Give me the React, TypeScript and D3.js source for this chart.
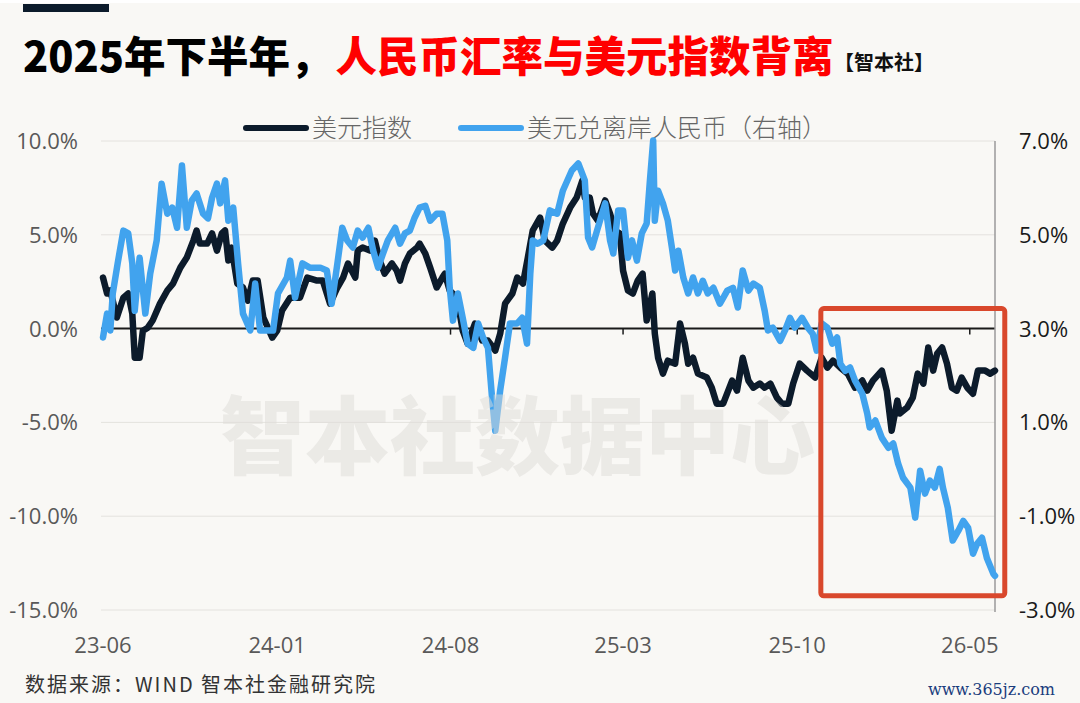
import React, { useEffect } from 'react';
import * as d3 from 'd3';

// days counted from 2023-06-01
const dxyDays = [
  0, 5, 9, 17, 25, 31, 36, 39, 45, 49, 55, 61, 70, 79, 86, 95, 103, 111, 115, 119,
  128, 134, 140, 146, 150, 154, 158, 165, 172, 178, 184, 190, 197, 208, 214, 220, 230, 242, 251, 263,
  270, 279, 288, 295, 301, 310, 313, 319, 328, 334, 340, 346, 355, 361, 365, 371, 377, 386, 389, 396,
  402, 410, 417, 420, 426, 435, 442, 448, 457, 466, 473, 482, 488, 494, 503, 509, 516, 522, 528, 537,
  543, 552, 558, 565, 574, 582, 589, 592, 598, 602, 608, 617, 623, 629, 635, 639, 645, 651, 657, 663,
  668, 675, 678, 682, 688, 694, 703, 709, 715, 719, 725, 731, 742, 748, 754, 762, 773, 779, 786, 793,
  799, 807, 813, 820, 828, 834, 842, 848, 856, 865, 875, 883, 890, 897, 906, 915, 924, 933, 939, 946,
  957, 963, 969, 976, 979, 988, 995, 1001, 1008, 1014, 1020, 1025, 1031, 1037, 1043, 1049, 1055, 1062, 1069, 1075,
  1084, 1090, 1096,
];
// 美元指数, % change (left axis)
const dxyValues = [
  2.72, 1.87, 2.03, 0.59, 1.65, 1.87, 0.8, -1.55, -1.55, -0.11, 0.05, 0.43, 1.33, 2.03, 2.4, 3.25, 3.79, 4.69, 5.23, 4.53,
  4.53, 5.07, 4.16, 5.07, 5.23, 3.63, 4.32, 2.4, 2.19, 1.49, 2.56, 2.56, 0.59, -0.48, -0.11, 0.96, 1.65, 1.65, 2.72, 2.56,
  2.56, 1.33, 2.19, 2.72, 3.47, 2.72, 4.16, 4.32, 4.16, 4.69, 3.63, 2.93, 3.47, 3.09, 2.56, 3.47, 4.0, 4.32, 4.53, 4.0,
  3.25, 2.19, 2.72, 2.93, 2.03, 1.65, -0.11, -0.8, 0.27, -0.64, -0.64, -1.17, -0.27, 1.33, 1.87, 2.72, 2.4, 3.79, 5.23, 5.92,
  4.69, 4.32, 4.69, 5.6, 6.45, 6.99, 7.89, 6.99, 6.99, 6.13, 5.76, 6.83, 6.13, 5.23, 5.07, 3.09, 2.03, 1.87, 2.56, 2.93,
  0.43, 1.87, -0.27, -1.55, -2.4, -1.71, -1.87, 0.27, -0.8, -1.87, -1.55, -2.4, -2.61, -3.15, -4.0, -4.0, -2.77, -3.31, -1.55, -2.77,
  -3.15, -2.93, -3.15, -2.93, -3.68, -4.0, -4.0, -2.93, -1.87, -2.24, -2.61, -1.55, -2.08, -1.71, -2.08, -2.4, -3.15, -2.77, -3.31, -2.77,
  -2.24, -3.31, -5.44, -3.84, -4.53, -4.21, -3.68, -2.4, -2.93, -1.01, -2.24, -1.33, -1.01, -1.87, -3.15, -3.31, -2.61, -3.15, -3.47, -2.24,
  -2.24, -2.4, -2.24,
];

const cnyDays = [
  0, 5, 9, 12, 18, 25, 31, 36, 39, 45, 52, 58, 66, 72, 79, 85, 91, 97, 103, 109,
  115, 123, 129, 134, 140, 144, 150, 154, 160, 166, 172, 181, 187, 193, 202, 209, 215, 226, 230, 236,
  245, 254, 267, 275, 281, 288, 294, 300, 307, 313, 319, 326, 332, 338, 344, 350, 359, 365, 371, 377,
  383, 389, 396, 402, 410, 417, 423, 426, 430, 436, 442, 448, 455, 461, 467, 473, 478, 482, 488, 494,
  500, 509, 515, 521, 525, 528, 534, 541, 549, 558, 565, 576, 584, 586, 592, 596, 601, 607, 617, 623,
  627, 633, 639, 645, 650, 656, 662, 668, 672, 676, 678, 682, 688, 694, 699, 703, 707, 713, 719, 725,
  731, 737, 743, 750, 758, 767, 774, 780, 786, 793, 799, 807, 813, 817, 823, 832, 838, 844, 850, 859,
  866, 872, 877, 883, 890, 896, 902, 906, 912, 918, 924, 933, 939, 942, 949, 957, 965, 971, 977, 983,
  992, 998, 1004, 1010, 1016, 1022, 1028, 1032, 1038, 1044, 1051, 1057, 1063, 1069, 1074, 1080, 1086, 1094, 1096,
];
// 美元兑离岸人民币, % change (right axis)
const cnyValues = [
  2.81, 3.32, 2.96, 3.75, 4.39, 5.09, 5.03, 4.39, 3.38, 4.51, 3.32, 4.17, 4.88, 6.09, 5.45, 5.58, 5.15, 6.48, 5.15, 5.73,
  5.88, 5.45, 5.35, 5.79, 6.09, 5.67, 6.16, 5.3, 5.58, 4.39, 3.32, 2.96, 3.96, 2.96, 2.96, 2.96, 3.75, 4.09, 4.45, 3.66,
  4.39, 4.3, 4.3, 4.24, 3.53, 4.39, 5.15, 4.88, 4.73, 5.09, 4.94, 5.15, 4.66, 4.3, 4.6, 4.88, 5.15, 4.81, 5.03, 5.09,
  5.37, 5.58, 5.62, 5.3, 5.45, 5.45, 4.88, 3.87, 3.17, 3.75, 3.23, 2.68, 2.59, 3.11, 2.81, 2.59, 1.53, 0.82, 1.68, 2.38,
  3.11, 3.11, 3.23, 2.68, 4.17, 4.88, 4.81, 4.88, 5.52, 5.45, 5.94, 6.37, 6.52, 6.43, 6.16, 4.94, 4.73, 5.09, 5.67, 4.88,
  4.6, 5.52, 5.52, 4.51, 4.88, 4.45, 5.03, 5.24, 6.16, 7.01, 5.3, 5.94, 5.67, 5.3, 4.73, 4.24, 4.66, 4.09, 3.75, 4.09,
  3.75, 4.02, 3.75, 3.87, 3.53, 3.81, 3.87, 3.45, 4.24, 3.81, 3.96, 3.87, 3.38, 2.96, 3.02, 2.74, 2.96, 3.23, 3.02, 3.23,
  3.02, 2.89, 2.53, 3.11, 3.02, 2.68, 2.81, 2.25, 2.1, 2.17, 1.89, 1.61, 1.19, 0.89, 1.04, 0.67, 0.46, 0.55, 0.12, -0.18,
  -0.39, -1.03, -0.03, -0.52, -0.24, -0.39, 0.01, -0.39, -0.82, -1.52, -1.31, -1.1, -1.25, -1.8, -1.59, -1.46, -1.89, -2.23, -2.27,
];

const leftTicks = [10, 5, 0, -5, -10, -15];
const rightTicks = [7, 5, 3, 1, -1, -3];
const xTickDates = ['2023-06-01', '2024-01-01', '2024-08-01', '2025-03-01', '2025-10-01', '2026-05-01'];
const seriesNames = ['美元指数', '美元兑离岸人民币（右轴）'];
// highlighted window (left-axis units)
const boxDates = ['2025-10-30', '2026-06-13'];
const boxRange = [1.07, -14.24];

const W = 1080;
const H = 703;
const DARK = '#0c1b2b';
const BLUE = '#41a3ee';
const parse = d3.timeParse('%Y-%m-%d');
const START = parse('2023-06-01') as Date;

const App: React.FC = () => {
  useEffect(() => {
    document.body.style.margin = '0';
  }, []);

  const x = d3.scaleTime().domain([START, parse('2026-06-01') as Date]).range([103, 995]);
  const yL = d3.scaleLinear().domain([-15, 10]).range([610, 141]);
  const yR = d3.scaleLinear().domain([-3, 7]).range([610, 141]);

  const dxy = dxyDays.map((d, i) => ({ date: d3.timeDay.offset(START, d), value: dxyValues[i] }));
  const cny = cnyDays.map((d, i) => ({ date: d3.timeDay.offset(START, d), value: cnyValues[i] }));

  const lineL = d3.line<{ date: Date; value: number }>().x((d) => x(d.date)).y((d) => yL(d.value));
  const lineR = d3.line<{ date: Date; value: number }>().x((d) => x(d.date)).y((d) => yR(d.value));
  const fmt = d3.timeFormat('%y-%m');

  const bx0 = x(parse(boxDates[0]) as Date);
  const bx1 = x(parse(boxDates[1]) as Date);
  const by0 = yL(boxRange[0]);
  const by1 = yL(boxRange[1]);

  const numFont = '"Open Sans", "Noto Sans", sans-serif';
  const cjk = '"Noto Sans CJK SC", sans-serif';

  return (
    <svg width={W} height={H} style={{ display: 'block' }}>
      <rect width={W} height={H} fill="#f9f8f5" />
      <rect x={0} y={0} width={W} height={3} fill="#ffffff" />
      <rect x={23} y={4} width={86} height={8} fill={DARK} />

      {/* title */}
      <text x={23} y={72} fontFamily={cjk} fontWeight={900} fontSize={41.5}>
        <tspan fill="#000">2025年下半年，</tspan>
        <tspan fill="#ff0000" dx={4}>人民币汇率与美元指数背离</tspan>
      </text>
      <text x={834} y={70} fontFamily={cjk} fontWeight={700} fontSize={20} fill="#111">【智本社】</text>

      {/* legend */}
      <line x1={246} x2={306} y1={128} y2={128} stroke={DARK} strokeWidth={6} strokeLinecap="round" />
      <text x={312} y={137} fontFamily={cjk} fontSize={25} fontWeight={300} fill="#666">{seriesNames[0]}</text>
      <line x1={461} x2={521} y1={128} y2={128} stroke={BLUE} strokeWidth={6} strokeLinecap="round" />
      <text x={527} y={137} fontFamily={cjk} fontSize={25} fontWeight={300} fill="#666">{seriesNames[1]}</text>

      {/* grid */}
      {leftTicks.filter((t) => t !== 0).map((t) => (
        <line key={t} x1={101} x2={995} y1={yL(t)} y2={yL(t)} stroke="#e4e2de" strokeWidth={1} />
      ))}
      <line x1={101} x2={995} y1={yL(0)} y2={yL(0)} stroke="#1a1a1a" strokeWidth={2} />
      {xTickDates.map((d) => (
        <line key={d} x1={x(parse(d) as Date)} x2={x(parse(d) as Date)} y1={yL(0)} y2={yL(0) + 6} stroke="#1a1a1a" strokeWidth={1.5} />
      ))}
      <line x1={995} x2={995} y1={141} y2={612} stroke="#9a9a9a" strokeWidth={1.5} />

      {/* axis labels */}
      {leftTicks.map((t) => (
        <text key={t} x={78} y={yL(t)} dy="0.36em" textAnchor="end" fontFamily={numFont} fontSize={22} fill="#595959">
          {t.toFixed(1)}%
        </text>
      ))}
      {rightTicks.map((t) => (
        <text key={t} x={1019} y={yR(t)} dy="0.36em" fontFamily={numFont} fontSize={22} fill="#1a1a1a">
          {t.toFixed(1)}%
        </text>
      ))}
      {xTickDates.map((d) => (
        <text key={d} x={x(parse(d) as Date)} y={653} textAnchor="middle" fontFamily={numFont} fontSize={22} fill="#595959">
          {fmt(parse(d) as Date)}
        </text>
      ))}

      {/* series */}
      <path d={lineL(dxy) || ''} fill="none" stroke={DARK} strokeWidth={6.5} strokeLinejoin="round" strokeLinecap="round" />
      <path d={lineR(cny) || ''} fill="none" stroke={BLUE} strokeWidth={6.5} strokeLinejoin="round" strokeLinecap="round" />

      {/* watermark */}
      <text x={220} y={468} fontFamily={cjk} fontWeight={900} fontSize={85} fill="#dedcd7" fillOpacity={0.5}>
        智本社数据中心
      </text>

      {/* highlight box */}
      <rect x={bx0} y={by0} width={bx1 - bx0} height={by1 - by0} fill="none" stroke="#d9482c" strokeWidth={5} rx={3} />

      {/* source */}
      <text x={25} y={692} fontFamily={cjk} fontSize={20} fill="#333" letterSpacing={2}>
        数据来源：WIND 智本社金融研究院
      </text>
      <text x={1055} y={695} textAnchor="end" fontFamily='"DejaVu Serif", serif' fontSize={16} fill="#1b3d7d">
        www.365jz.com
      </text>
    </svg>
  );
};

export default App;
